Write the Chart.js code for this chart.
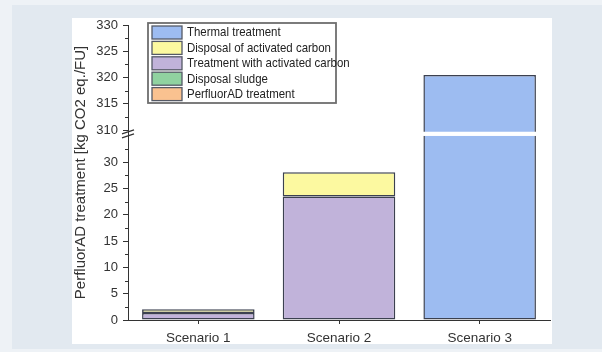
<!DOCTYPE html>
<html>
<head>
<meta charset="utf-8">
<script src="https://cdn.jsdelivr.net/npm/chart.js@4.4.1/dist/chart.umd.min.js"></script>
<style>
  html, body { margin: 0; padding: 0; background: #eef2f6; }
  #wrap { position: relative; width: 602px; height: 352px; }
</style>
</head>
<body>
<div id="wrap"><canvas id="myChart" width="602" height="352"></canvas></div>
<script>
// Data
const scenarios = ["Scenario 1", "Scenario 2", "Scenario 3"];
const perfluorADTreatment = [0, 0, 0];
const disposalSludge = [0, 0, 0];
const treatmentActivatedCarbon = [1.35, 23.5, 0];
const disposalActivatedCarbon = [0.7, 4.6, 0];
const thermalTreatment = [0, 0, 320.5];

// Tick labels (lower and upper part of the broken axis)
const lowerTicks = [0, 5, 10, 15, 20, 25, 30];
const upperTicks = [310, 315, 320, 325, 330];

// axis break: everything between these values gets squeezed into a small gap
const BREAK_FROM = 35;
const BREAK_TO = 309.7;
const BREAK_GAP = 0.8;

function squash(v) {
  if (v <= BREAK_FROM) return v;
  if (v >= BREAK_TO) return v - BREAK_TO + BREAK_FROM + BREAK_GAP;
  return BREAK_FROM + (v - BREAK_FROM) / (BREAK_TO - BREAK_FROM) * BREAK_GAP;
}
function unsquash(c) {
  if (c <= BREAK_FROM) return c;
  if (c >= BREAK_FROM + BREAK_GAP) return c + BREAK_TO - BREAK_FROM - BREAK_GAP;
  return BREAK_FROM + (c - BREAK_FROM) / BREAK_GAP * (BREAK_TO - BREAK_FROM);
}

class BrokenLinearScale extends Chart.LinearScale {
  buildTicks() {
    return lowerTicks.concat(upperTicks).map((v) => ({ value: v }));
  }
  getPixelForValue(value) {
    const lo = squash(this.min);
    const hi = squash(this.max);
    return this.getPixelForDecimal((squash(value) - lo) / (hi - lo));
  }
  getValueForPixel(pixel) {
    const lo = squash(this.min);
    const hi = squash(this.max);
    return unsquash(lo + this.getDecimalForPixel(pixel) * (hi - lo));
  }
}
BrokenLinearScale.id = "brokenLinear";
BrokenLinearScale.defaults = Chart.LinearScale.defaults;
Chart.register(BrokenLinearScale);

Chart.defaults.font.family = "'Liberation Sans', Arial, sans-serif";
Chart.defaults.color = "#333";

const AXIS = "#333";
const EDGE = "#3c4150";

// light panels behind the chart
const backdrop = {
  id: "backdrop",
  beforeDraw(chart) {
    const ctx = chart.ctx;
    ctx.save();
    ctx.fillStyle = "#eef2f6";
    ctx.fillRect(0, 0, chart.width, chart.height);
    ctx.fillStyle = "#e2e9f0";
    ctx.fillRect(12, 5, chart.width - 12, 344);
    ctx.fillStyle = "#ffffff";
    ctx.fillRect(72, 18, 480, 326);
    ctx.restore();
  },
};

// white gap across the bars, break marks and minor ticks on the y axis
const axisBreak = {
  id: "axisBreak",
  afterDatasetsDraw(chart) {
    const ctx = chart.ctx;
    const y = chart.scales.y;
    const area = chart.chartArea;
    const top = y.getPixelForValue(BREAK_TO);
    const bottom = y.getPixelForValue(BREAK_FROM);
    ctx.save();
    ctx.fillStyle = "#fff";
    ctx.fillRect(area.left + 1, top, area.right - area.left, bottom - top);

    // minor ticks halfway between the labelled ones
    ctx.strokeStyle = AXIS;
    ctx.lineWidth = 1;
    const minors = [];
    for (let i = 0; i < lowerTicks.length; i++) minors.push(lowerTicks[i] + 2.5);
    for (let i = 0; i < upperTicks.length - 1; i++) minors.push(upperTicks[i] + 2.5);
    minors.forEach((v) => {
      const py = Math.round(y.getPixelForValue(v)) + 0.5;
      ctx.beginPath();
      ctx.moveTo(area.left - 3, py);
      ctx.lineTo(area.left, py);
      ctx.stroke();
    });

    // the "//" marks
    ctx.lineWidth = 1.2;
    const mid = (top + bottom) / 2;
    [-2, 2].forEach((d) => {
      ctx.beginPath();
      ctx.moveTo(area.left - 6, mid + d + 2);
      ctx.lineTo(area.left + 6, mid + d - 2);
      ctx.stroke();
    });
    ctx.restore();
  },
};

// legend box inside the plot, top-left
const legendBox = {
  id: "legendBox",
  afterDraw(chart) {
    const ctx = chart.ctx;
    const items = chart.data.datasets.slice().reverse();
    const x = 148, y = 23, w = 188, h = 80, rowH = 15.4;
    ctx.save();
    ctx.fillStyle = "#fff";
    ctx.fillRect(x, y, w, h);
    ctx.strokeStyle = "#6e6e6e";
    ctx.lineWidth = 1.8;
    ctx.strokeRect(x, y, w, h);
    ctx.font = "12.6px 'Liberation Sans', Arial, sans-serif";
    ctx.textBaseline = "middle";
    items.forEach((ds, i) => {
      const cy = y + 9.5 + i * rowH;
      ctx.fillStyle = ds.backgroundColor;
      ctx.fillRect(152, cy - 6.5, 30, 13);
      ctx.strokeStyle = "#555a66";
      ctx.lineWidth = 1.3;
      ctx.strokeRect(152, cy - 6.5, 30, 13);
      ctx.fillStyle = "#222";
      // the original text is a little narrower than the font
      const tw = ctx.measureText(ds.label).width * 0.91;
      ctx.fillText(ds.label, 187, cy + 0.5, tw);
    });
    ctx.restore();
  },
};

const ctx = document.getElementById("myChart").getContext("2d");

new Chart(ctx, {
  type: "bar",
  data: {
    labels: scenarios,
    datasets: [
      { label: "PerfluorAD treatment", data: perfluorADTreatment, backgroundColor: "#fac290" },
      { label: "Disposal sludge", data: disposalSludge, backgroundColor: "#90d2a0" },
      { label: "Treatment with activated carbon", data: treatmentActivatedCarbon, backgroundColor: "#c1b3da" },
      { label: "Disposal of activated carbon", data: disposalActivatedCarbon, backgroundColor: "#fcf9a0" },
      { label: "Thermal treatment", data: thermalTreatment, backgroundColor: "#9dbcf1" },
    ],
  },
  options: {
    responsive: false,
    animation: false,
    layout: { padding: { left: 0, top: 25, right: 52, bottom: 0 } },
    datasets: {
      bar: {
        borderColor: EDGE,
        borderWidth: 1.5,
        borderSkipped: false,
        categoryPercentage: 0.8,
        barPercentage: 1.0,
      },
    },
    plugins: {
      legend: { display: false },
      tooltip: { enabled: false },
    },
    scales: {
      x: {
        stacked: true,
        afterFit(scale) { scale.height = 32; },
        grid: { display: true, drawOnChartArea: false, offset: false, tickLength: 4, color: AXIS },
        border: { display: true, color: AXIS, width: 1 },
        ticks: { padding: 6, maxRotation: 0, font: { size: 13.5 }, color: "#333" },
      },
      y: {
        type: "brokenLinear",
        stacked: true,
        min: 0,
        max: 330,
        afterFit(scale) { scale.width = 128; },
        grid: { display: true, drawOnChartArea: false, tickLength: 5, color: AXIS },
        border: { display: true, color: AXIS, width: 1 },
        ticks: {
          autoSkip: false,
          padding: 5,
          font: { size: 13 },
          color: "#333",
          callback: (v) => String(v),
        },
        title: {
          display: true,
          text: "PerfluorAD treatment [kg CO2 eq./FU]",
          font: { size: 15 },
          color: "#333",
          padding: { top: 72, bottom: 0 },
        },
      },
    },
  },
  plugins: [backdrop, axisBreak, legendBox],
});
</script>
</body>
</html>
